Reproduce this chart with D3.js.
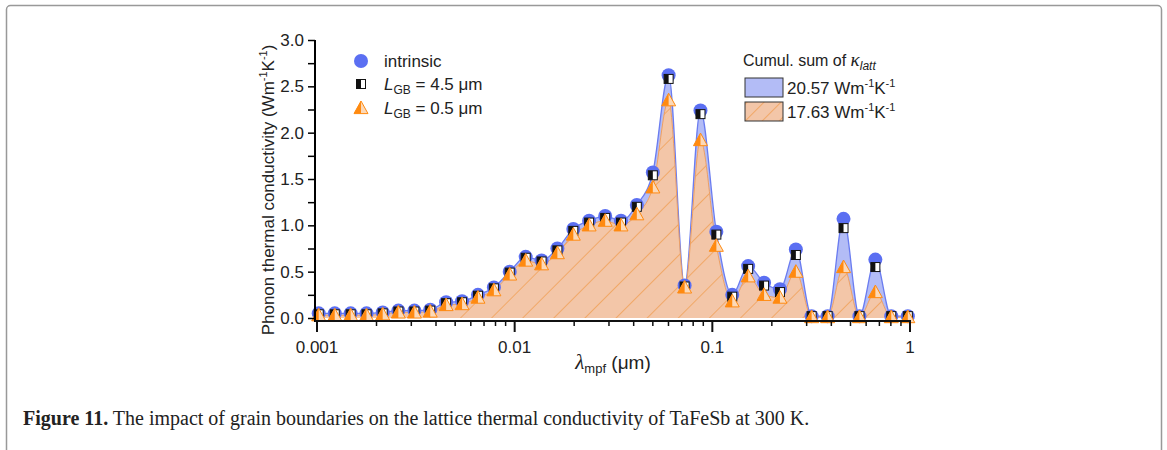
<!DOCTYPE html>
<html><head><meta charset="utf-8">
<script src="https://cdn.jsdelivr.net/npm/d3@7"></script>
<style>body{margin:0;background:#fff}svg{display:block}</style>
</head><body>
<svg id="chart" width="1167" height="450"></svg>
<script>
// mean free path (um)
var lambdas = [0.00102, 0.00123, 0.00148, 0.00178, 0.00215, 0.00258, 0.00311, 0.00374, 0.0045, 0.00542,
  0.00652, 0.00785, 0.00944, 0.01137, 0.01368, 0.01645, 0.0198, 0.0238, 0.0287, 0.0345,
  0.0415, 0.05, 0.0601, 0.0724, 0.0871, 0.1048, 0.1261, 0.1518, 0.1827, 0.2198,
  0.2646, 0.318, 0.383, 0.461, 0.555, 0.668, 0.804, 0.975];
var intrinsic = [0.05, 0.05, 0.05, 0.05, 0.06, 0.08, 0.08, 0.09, 0.17, 0.18,
  0.25, 0.33, 0.5, 0.66, 0.62, 0.75, 0.96, 1.05, 1.1, 1.05,
  1.22, 1.57, 2.62, 0.35, 2.24, 0.93, 0.25, 0.56, 0.38, 0.31,
  0.74, 0.02, 0.02, 1.07, 0.02, 0.63, 0.02, 0.02];
var gb45 = [0.04, 0.04, 0.04, 0.04, 0.05, 0.07, 0.07, 0.08, 0.16, 0.17,
  0.24, 0.32, 0.49, 0.65, 0.61, 0.73, 0.94, 1.03, 1.08, 1.03,
  1.2, 1.54, 2.58, 0.34, 2.2, 0.9, 0.23, 0.53, 0.35, 0.28,
  0.68, 0.02, 0.02, 0.97, 0.02, 0.55, 0.02, 0.02];
var gb05 = [0.03, 0.03, 0.03, 0.03, 0.04, 0.06, 0.06, 0.07, 0.14, 0.15,
  0.22, 0.3, 0.47, 0.62, 0.58, 0.7, 0.9, 1.0, 1.05, 1.0,
  1.12, 1.41, 2.35, 0.33, 1.92, 0.78, 0.18, 0.45, 0.25, 0.22,
  0.5, 0.01, 0.01, 0.55, 0.01, 0.28, 0.01, 0.01];
var yTicks = [0, 0.5, 1.0, 1.5, 2.0, 2.5, 3.0];
var xTicks = [0.001, 0.01, 0.1, 1];
var sums = ["20.57", "17.63"];

var svg = d3.select("#chart");
var font = "Liberation Sans, Arial, sans-serif";

// figure frame
svg.append("rect").attr("x", 6.5).attr("y", 5.5).attr("width", 1155).attr("height", 470)
  .attr("rx", 4).attr("fill", "none").attr("stroke", "#999").attr("stroke-width", 1.5);

var x = d3.scaleLog().domain([0.001, 1]).range([317, 910]);
var y = d3.scaleLinear().domain([0, 3]).range([318, 40]);

var defs = svg.append("defs");
var hatch = defs.append("pattern").attr("id", "hatch").attr("patternUnits", "userSpaceOnUse")
  .attr("width", 22).attr("height", 22).attr("patternTransform", "rotate(45)");
hatch.append("rect").attr("width", 22).attr("height", 22).attr("fill", "#f3c6a8");
hatch.append("line").attr("x1", 0).attr("y1", 0).attr("x2", 0).attr("y2", 22)
  .attr("stroke", "#f0943c").attr("stroke-width", 1.2);

var legHatch = defs.append("pattern").attr("id", "hatch2").attr("patternUnits", "userSpaceOnUse")
  .attr("width", 12).attr("height", 12).attr("patternTransform", "rotate(45)");
legHatch.append("rect").attr("width", 12).attr("height", 12).attr("fill", "#f3c6a8");
legHatch.append("line").attr("x1", 0).attr("y1", 0).attr("x2", 0).attr("y2", 12)
  .attr("stroke", "#f0943c").attr("stroke-width", 1.2);

var idx = d3.range(lambdas.length);
function area(vals) {
  return d3.area().x(i => x(lambdas[i])).y0(y(0)).y1(i => y(vals[i])).curve(d3.curveMonotoneX)(idx);
}
function line(vals) {
  return d3.line().x(i => x(lambdas[i])).y(i => y(vals[i])).curve(d3.curveMonotoneX)(idx);
}
svg.append("path").attr("d", area(intrinsic)).attr("fill", "#b3bcf6");
svg.append("path").attr("d", line(intrinsic)).attr("fill", "none").attr("stroke", "#6a7cf0").attr("stroke-width", 1.3);
svg.append("path").attr("d", area(gb05)).attr("fill", "url(#hatch)");
svg.append("path").attr("d", line(gb05)).attr("fill", "none").attr("stroke", "#f0a060").attr("stroke-width", 1);

// markers
function circle(g, cx, cy) {
  g.append("circle").attr("cx", cx).attr("cy", cy).attr("r", 7).attr("fill", "#5b6ff2");
}
function halfSquare(g, cx, cy) {
  g.append("rect").attr("x", cx - 4.5).attr("y", cy - 4.5).attr("width", 9).attr("height", 9)
    .attr("fill", "#fff").attr("stroke", "#111").attr("stroke-width", 1);
  g.append("rect").attr("x", cx - 4.5).attr("y", cy - 4.5).attr("width", 4.5).attr("height", 9).attr("fill", "#111");
}
function halfTri(g, cx, cy) {
  var s = 7;
  g.append("path").attr("d", `M${cx},${cy - s}L${cx + s},${cy + s * 0.8}L${cx - s},${cy + s * 0.8}Z`)
    .attr("fill", "#fcd9b8").attr("stroke", "#ff8a10").attr("stroke-width", 1);
  g.append("path").attr("d", `M${cx},${cy - s}L${cx},${cy + s * 0.8}L${cx - s},${cy + s * 0.8}Z`)
    .attr("fill", "#ff8a10");
}
var mk = svg.append("g");
idx.forEach(i => circle(mk, x(lambdas[i]), y(intrinsic[i])));
idx.forEach(i => halfSquare(mk, x(lambdas[i]), y(gb45[i])));
idx.forEach(i => halfTri(mk, x(lambdas[i]), y(gb05[i])));

// axes
var yAxis = svg.append("g").attr("transform", "translate(315,0)")
  .call(d3.axisLeft(y).tickValues(d3.range(0, 3.01, 0.25)).tickSize(7)
    .tickFormat(d => yTicks.includes(d) ? d3.format(".1f")(d) : ""));
yAxis.selectAll(".tick line").attr("stroke-width", 1.5);
yAxis.select(".domain").attr("d", "M0,40V322").attr("stroke-width", 2);
yAxis.selectAll("text").attr("font-family", font).attr("font-size", 17).attr("fill", "#222").attr("x", -11);

var minor = [];
for (var e = -3; e < 0; e++) for (var m = 2; m < 10; m++) minor.push(m * Math.pow(10, e));
var xAxis = svg.append("g").attr("transform", "translate(0,321)");
xAxis.append("line").attr("x1", 315).attr("x2", 911).attr("stroke", "#111").attr("stroke-width", 2);
xAxis.selectAll(".mn").data(minor).enter().append("line")
  .attr("x1", d => x(d)).attr("x2", d => x(d)).attr("y1", 0).attr("y2", 5).attr("stroke", "#111").attr("stroke-width", 1.5);
xAxis.selectAll(".mj").data(xTicks).enter().append("line")
  .attr("x1", d => x(d)).attr("x2", d => x(d)).attr("y1", 0).attr("y2", 11).attr("stroke", "#111").attr("stroke-width", 2);
xAxis.selectAll(".lb").data(xTicks).enter().append("text")
  .attr("x", d => x(d)).attr("y", 32).attr("text-anchor", "middle")
  .attr("font-family", font).attr("font-size", 17).attr("fill", "#222").text(d => String(d));

// axis titles
var xt = svg.append("text").attr("x", 613).attr("y", 369).attr("text-anchor", "middle")
  .attr("font-family", font).attr("font-size", 19).attr("fill", "#222");
xt.append("tspan").attr("font-family", "Liberation Serif").attr("font-style", "italic").attr("font-size", 21).text("λ");
xt.append("tspan").attr("font-size", 13).attr("dy", 4).text("mpf");
xt.append("tspan").attr("dy", -4).text(" (μm)");

var yt = svg.append("text").attr("transform", "translate(274,190) rotate(-90)").attr("text-anchor", "middle")
  .attr("font-family", font).attr("font-size", 17).attr("fill", "#222");
yt.append("tspan").text("Phonon thermal conductivity (Wm");
yt.append("tspan").attr("font-size", 11).attr("dy", -7).text("-1");
yt.append("tspan").attr("dy", 7).text("K");
yt.append("tspan").attr("font-size", 11).attr("dy", -7).text("-1");
yt.append("tspan").attr("dy", 7).text(")");

// marker legend
var lg = svg.append("g");
circle(lg, 361, 61);
halfSquare(lg, 361, 84);
halfTri(lg, 361, 108);
function legText(yy, parts) {
  var t = lg.append("text").attr("x", 384).attr("y", yy).attr("font-family", font).attr("font-size", 17).attr("fill", "#222");
  parts.forEach(p => t.append("tspan").attr("font-style", p.it ? "italic" : null)
    .attr("font-size", p.sub ? 12 : null).attr("dy", p.dy || 0).text(p.t));
}
legText(67, [{ t: "intrinsic" }]);
legText(90, [{ t: "L", it: 1 }, { t: "GB", sub: 1, dy: 4 }, { t: " = 4.5 μm", dy: -4 }]);
legText(114, [{ t: "L", it: 1 }, { t: "GB", sub: 1, dy: 4 }, { t: " = 0.5 μm", dy: -4 }]);

// cumulative sum legend
var cl = svg.append("g");
var ct = cl.append("text").attr("x", 743).attr("y", 66).attr("font-family", font).attr("font-size", 16).attr("fill", "#222");
ct.append("tspan").text("Cumul. sum of ");
ct.append("tspan").attr("font-family", "Liberation Serif").attr("font-style", "italic").attr("font-size", 19).text("κ");
ct.append("tspan").attr("font-style", "italic").attr("font-size", 12).attr("dy", 4).text("latt");
var fills = ["#b3bcf6", "url(#hatch2)"];
sums.forEach(function(s, i) {
  var yy = 78 + i * 24;
  cl.append("rect").attr("x", 745).attr("y", yy).attr("width", 38).attr("height", 19)
    .attr("fill", fills[i]).attr("stroke", "#333").attr("stroke-width", 1);
  var t = cl.append("text").attr("x", 787).attr("y", yy + 16).attr("font-family", font).attr("font-size", 17).attr("fill", "#222");
  t.append("tspan").text(s + " Wm");
  t.append("tspan").attr("font-size", 11).attr("dy", -7).text("-1");
  t.append("tspan").attr("dy", 7).text("K");
  t.append("tspan").attr("font-size", 11).attr("dy", -7).text("-1");
});

// caption
var cap = svg.append("text").attr("x", 23).attr("y", 425).attr("font-family", "Liberation Serif, serif")
  .attr("font-size", 20).attr("fill", "#222");
cap.append("tspan").attr("font-weight", "bold").text("Figure 11.");
cap.append("tspan").text(" The impact of grain boundaries on the lattice thermal conductivity of TaFeSb at 300 K.");
</script>
</body></html>
